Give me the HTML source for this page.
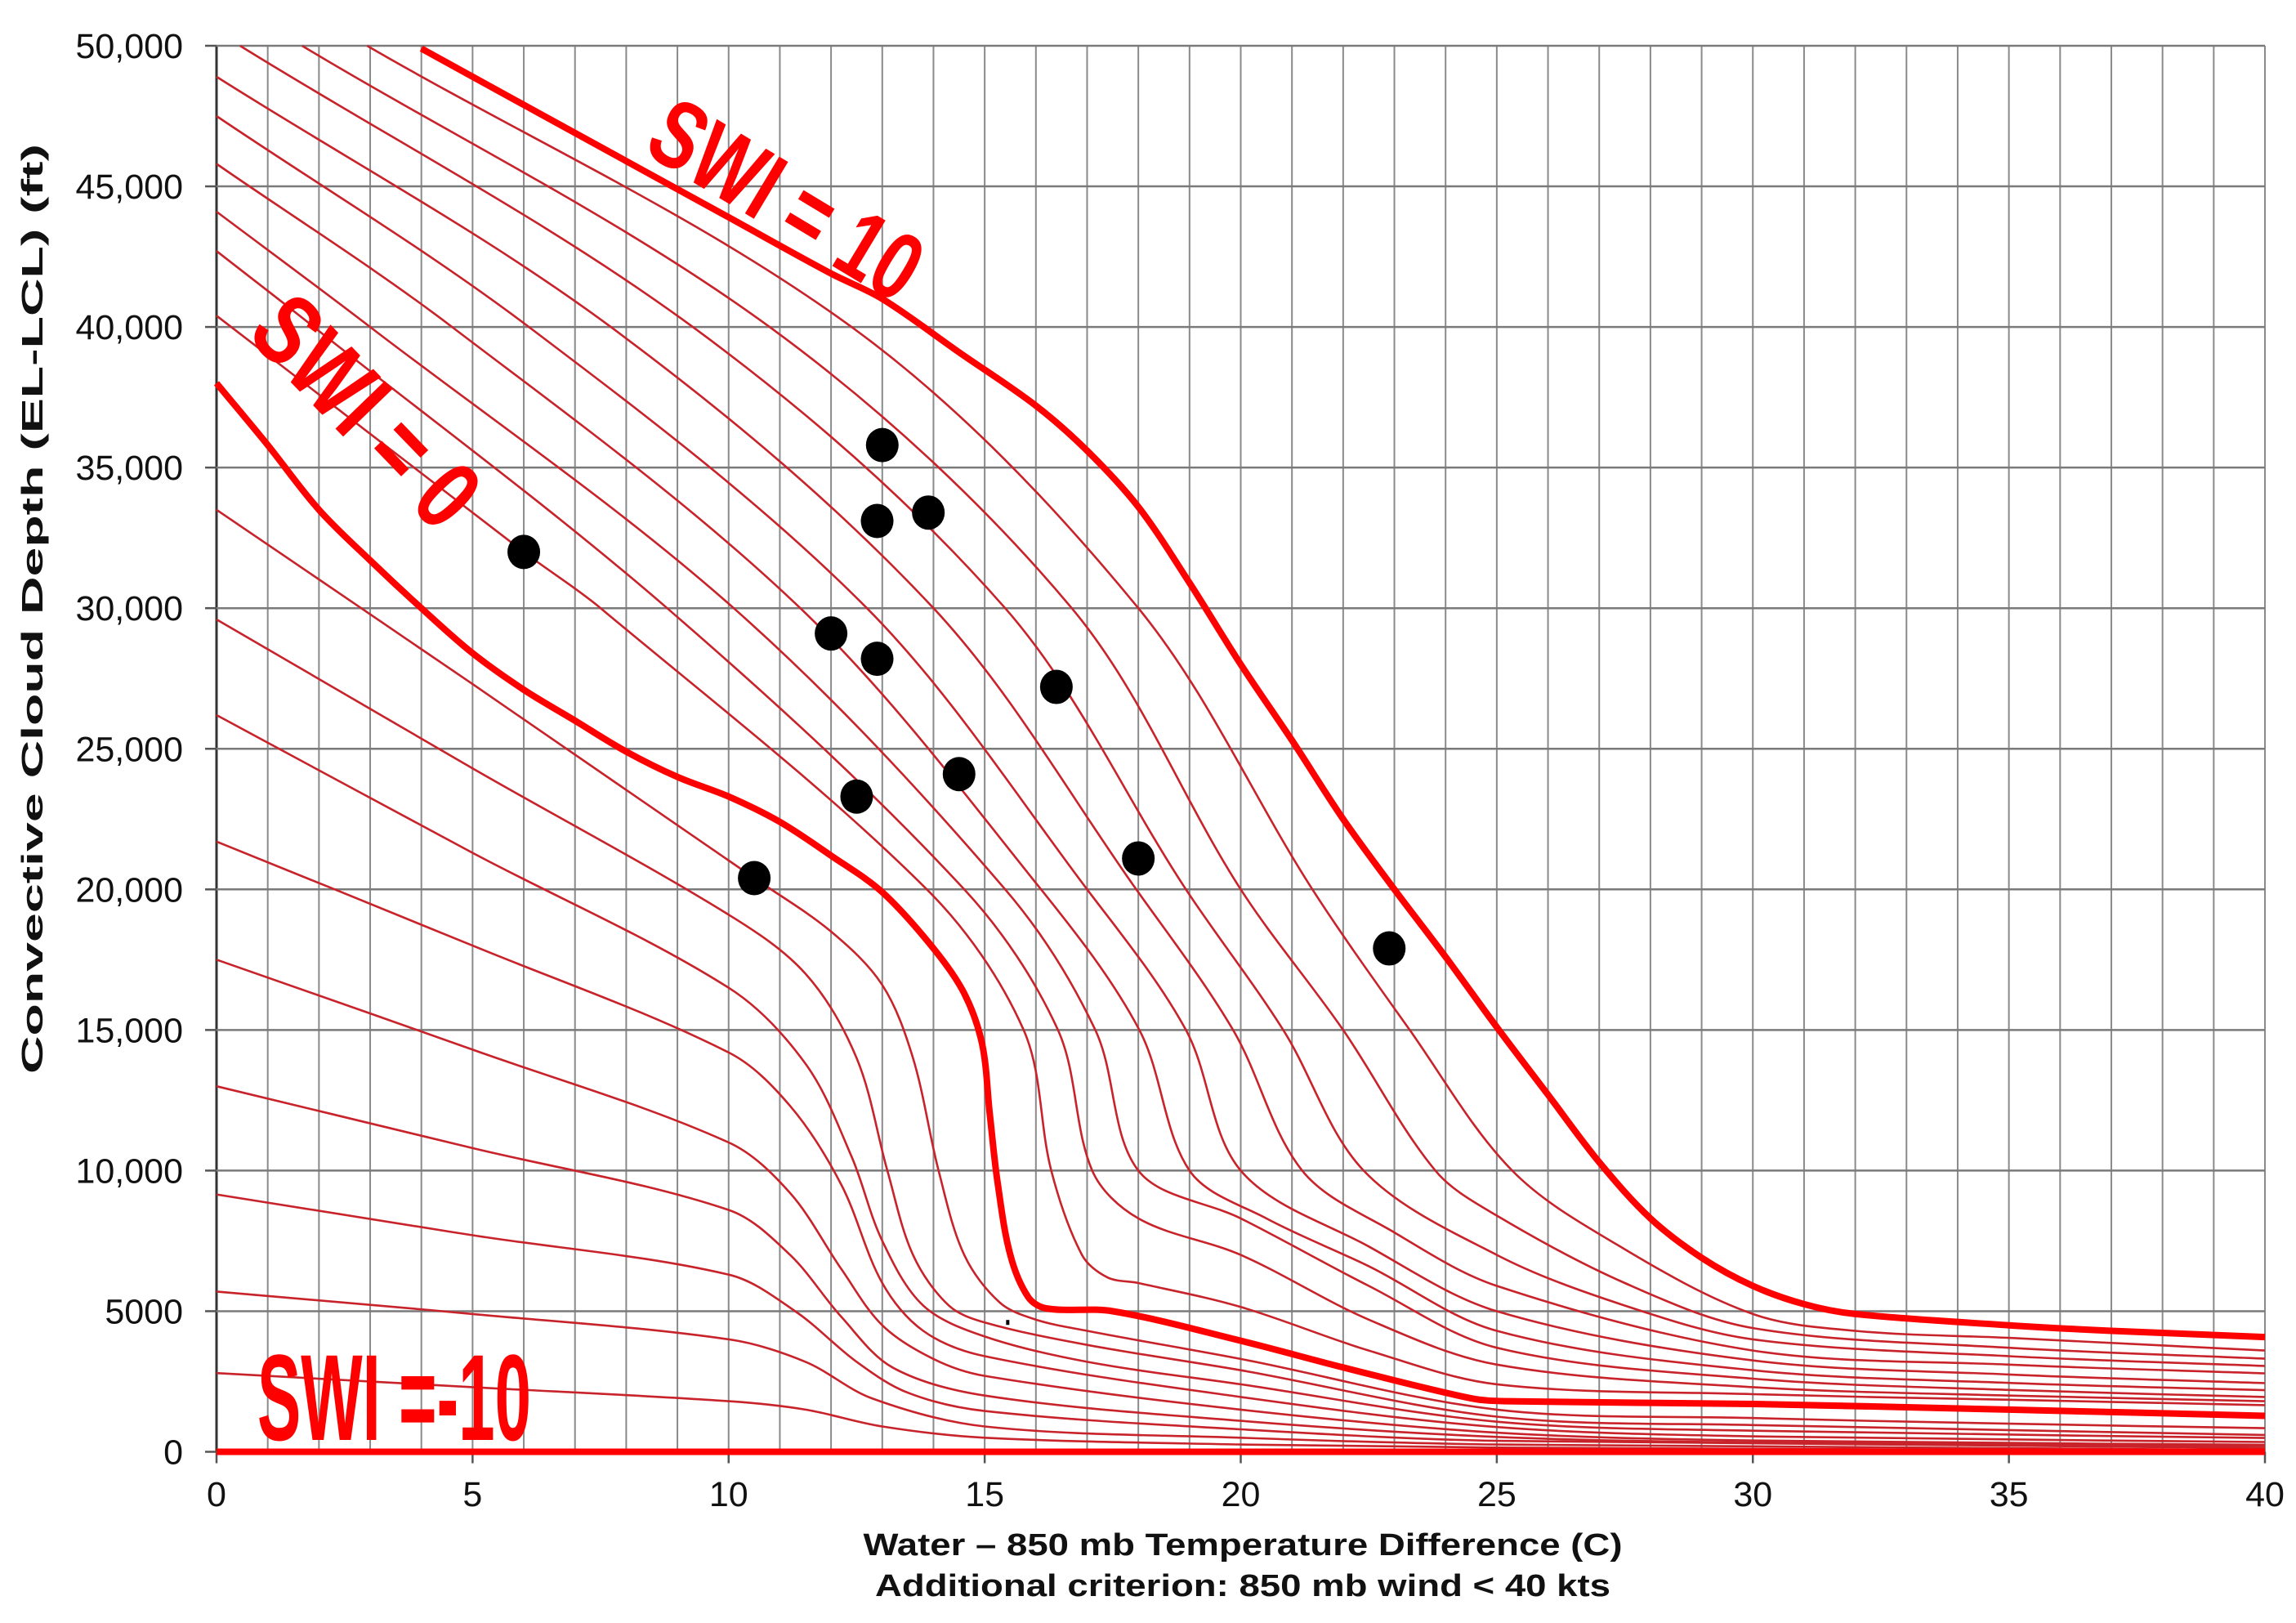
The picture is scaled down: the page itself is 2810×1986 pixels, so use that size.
<!DOCTYPE html>
<html><head><meta charset="utf-8"><style>
html,body{margin:0;padding:0;background:#fff;}
svg{display:block;}
text{font-family:"Liberation Sans",Arial,sans-serif;}
</style></head>
<body>
<svg id="chart" width="2810" height="1986" viewBox="0 0 2810 1986" xmlns="http://www.w3.org/2000/svg">
<rect x="0" y="0" width="2810" height="1986" fill="#fff"/>
<g id="grid"></g>
<g id="ticks"></g>
<defs><clipPath id="plotclip"><rect x="260" y="50" width="2518" height="1735"/></clipPath></defs>
<g id="curves" clip-path="url(#plotclip)"></g>
<g id="dots"></g>
<g>
<text x="0" y="0" transform="translate(785,185) rotate(31)" font-size="118" font-weight="bold" fill="#ff0000" textLength="365" lengthAdjust="spacingAndGlyphs">SWI = 10</text>
<text x="0" y="0" transform="translate(300,410) rotate(46)" font-size="122" font-weight="bold" fill="#ff0000" textLength="340" lengthAdjust="spacingAndGlyphs">SWI = 0</text>
<text x="315" y="1762" font-size="150" font-weight="bold" fill="#ff0000" textLength="335" lengthAdjust="spacingAndGlyphs">SWI =-10</text>
</g>
<g>
<text transform="translate(52,745) rotate(-90)" text-anchor="middle" font-size="36" font-weight="bold" fill="#111" textLength="1138" lengthAdjust="spacingAndGlyphs">Convective Cloud Depth (EL-LCL) (ft)</text>
<text x="1521" y="1903" text-anchor="middle" font-size="38" font-weight="bold" fill="#111" textLength="929" lengthAdjust="spacingAndGlyphs">Water – 850 mb Temperature Difference (C)</text>
<text x="1521" y="1953" text-anchor="middle" font-size="38" font-weight="bold" fill="#111" textLength="900" lengthAdjust="spacingAndGlyphs">Additional criterion: 850 mb wind &lt; 40 kts</text>
</g>
</svg>
<script>
// ---- data ----
const xTicks = [0,5,10,15,20,25,30,35,40];
const yTicks = [0,5000,10000,15000,20000,25000,30000,35000,40000,45000,50000];
const yTickLabels = ["0","5000","10,000","15,000","20,000","25,000","30,000","35,000","40,000","45,000","50,000"];
const swiThick10 = [[4,49900],[6,47900],[8,45900],[10,43900],[12,41900],[13,41000],[14.5,39100],[16,37200],[17,35600],[18,33600],[19,30900],[20,28000],[21,25300],[22,22500],[23,20000],[24,17600],[25,15100],[26,12700],[27,10300],[28,8300],[29,6900],[30,5900],[31,5250],[32,4900],[35,4500],[37,4300],[40,4080]];
const swiThick0 = [[0,38000],[1,35800],[2,33500],[3,31700],[4,30000],[5,28400],[6,27100],[7,26000],[8,24900],[9,24000],[10,23300],[11,22400],[12,21200],[13,19900],[14,17900],[14.6,16300],[14.95,14500],[15.1,12000],[15.25,9600],[15.5,7000],[15.85,5500],[16.2,5100],[17.5,5000],[20,3950],[22,3000],[24.5,1900],[25.2,1800],[30,1700],[35,1500],[40,1280]];
const swiThickMinus10 = [[0,0],[40,0]];
const swiPos1 = [[0,40400],[6,32000],[7.5,30000],[13.87,20000],[15.76,15000],[16.3,10000],[16.9,7000],[17.4,6200],[18,6000],[20,5150],[22.5,3600],[25,2400],[30,2050],[35,1850],[40,1660]];
const swiPos2 = [[0,42700],[1.9,40000],[8.8,30000],[14.6,20000],[16.43,15000],[17.1,10000],[18,8300],[20,7000],[22.5,4700],[25,3100],[30,2300],[35,2000],[40,1800]];
const swiPos3 = [[0,44100],[3.0,40000],[10.1,30000],[15.4,20000],[17.16,15000],[18.0,10000],[20,8300],[22.5,5900],[25,3700],[30,2600],[35,2200],[40,1950]];
const swiPos4 = [[0,45800],[4.6,40000],[11.4,30000],[16.1,20000],[18.02,15000],[19.0,10000],[20.5,8300],[22.5,6600],[25,4300],[30,2900],[35,2450],[40,2190]];
const swiPos5 = [[0,47500],[6.1,40000],[12.7,30000],[17.0,20000],[18.93,15000],[20.0,10000],[22.5,7300],[25,5000],[30,3250],[35,2750],[40,2440]];
const swiPos6 = [[0,48900],[7.7,40000],[14.0,30000],[17.96,20000],[19.85,15000],[21.2,10000],[23,7800],[25,5900],[30,3600],[35,3100],[40,2790]];
const swiPos7 = [[0.46,50000],[9.3,40000],[15.4,30000],[18.93,20000],[20.83,15000],[22.4,10000],[25,7000],[27.5,5200],[30,4000],[35,3400],[40,3050]];
const swiPos8 = [[1.67,50000],[10.8,40000],[16.7,30000],[20.0,20000],[22.0,15000],[23.8,10000],[25,8400],[27.5,6000],[30,4400],[35,3700],[40,3310]];
const swiPos9 = [[2.94,50000],[12.4,40000],[18.0,30000],[21.4,20000],[23.3,15000],[25.3,10000],[27.5,7200],[30,4900],[32,4300],[35,4050],[40,3600]];
const swiNeg1 = [[0,33500],[5,27300],[10.5,20400],[12,18500],[13,16600],[13.6,14000],[14.1,10000],[14.6,7000],[15.3,5300],[16,4700],[17,4300],[20,3300],[25,1500],[30,1200],[35,1000],[40,840]];
const swiNeg2 = [[0,29600],[5,24300],[10,19100],[11.5,17000],[12.5,14000],[13.1,10000],[13.6,7000],[14.3,5200],[15,4600],[17,3800],[20,2900],[25,1250],[30,950],[40,600]];
const swiNeg3 = [[0,26200],[5,21300],[10,16500],[11.5,13800],[12.4,10500],[13,7500],[13.8,5200],[15,4100],[17,3200],[20,2400],[25,1070],[30,750],[40,490]];
const swiNeg4 = [[0,21700],[5,18000],[10,14200],[11.2,12300],[12.2,9500],[13,6000],[13.8,4300],[15,3400],[20,1950],[25,880],[30,550],[40,350]];
const swiNeg5 = [[0,17500],[5,14300],[10,11000],[11.2,9200],[12.2,6500],[13,4500],[14,3300],[15,2700],[20,1500],[25,680],[30,400],[40,250]];
const swiNeg6 = [[0,13000],[5,10800],[10,8600],[11.2,7000],[12.2,4800],[13.2,3000],[15,2000],[20,1100],[25,530],[30,330],[40,200]];
const swiNeg7 = [[0,9150],[5,7700],[10,6300],[11.3,5000],[12.5,3200],[13.5,2100],[15,1450],[20,800],[25,390],[40,130]];
const swiNeg8 = [[0,5700],[5,4900],[10,4000],[11.5,3200],[12.8,1900],[15,900],[20,500],[25,260],[40,60]];
const swiNeg9 = [[0,2800],[5,2300],[10,1800],[11.5,1500],[13,900],[15,500],[20,260],[25,150],[40,20]];
const dotX = [6.0,13.0,12.9,13.9,12.0,12.9,16.4,14.5,12.5,10.5,18.0,22.9];
const dotY = [32000,35800,33100,33400,29100,28200,27200,24100,23300,20400,21100,17900];

// ---- axes ----
const X0 = 265, X1 = 2772, Y0 = 1776.5, Y1 = 56;
function sx(v){ return X0 + v * (X1 - X0) / 40; }
function sy(v){ return Y0 - v * (Y0 - Y1) / 50000; }
const NS = "http://www.w3.org/2000/svg";
function mk(tag, attrs, parent){
  const e = document.createElementNS(NS, tag);
  for (const k in attrs) e.setAttribute(k, attrs[k]);
  parent.appendChild(e);
  return e;
}
const grid = document.getElementById('grid');
for (let i = 0; i <= 40; i++) {
  const l = mk('line', {x1: sx(i), x2: sx(i), y1: sy(50000), y2: sy(0), stroke: i === 0 ? '#333' : '#8a8a8a', 'stroke-width': i === 0 ? 3 : 2}, grid);
  
  
}
for (let v = 0; v <= 50000; v += 5000) {
  const l = mk('line', {x1: sx(0), x2: sx(40), y1: sy(v), y2: sy(v), stroke: '#7a7a7a', 'stroke-width': 2.5}, grid);
  
  
}
const ticks = document.getElementById('ticks');
yTicks.forEach((v, i) => {
  const t = mk('line', {x1: sx(0) - 14, x2: sx(0), y1: sy(v), y2: sy(v), stroke: '#555', 'stroke-width': 2.5}, ticks);
  
  
  const lb = mk('text', {x: 224, y: sy(v) + 15, 'text-anchor': 'end', 'font-size': 43, fill: '#111'}, ticks);
  lb.textContent = yTickLabels[i];
  
  
});
xTicks.forEach(v => {
  const t = mk('line', {x1: sx(v), x2: sx(v), y1: sy(0), y2: sy(0) + 14, stroke: '#555', 'stroke-width': 2.5}, ticks);
  
  
  const lb = mk('text', {x: sx(v), y: 1843, 'text-anchor': 'middle', 'font-size': 43, fill: '#111'}, ticks);
  lb.textContent = String(v);
  
  
});

// ---- curves (chord-length Catmull-Rom) ----
function pathFor(data){
  const p = data.map(d => [sx(d[0]), sy(d[1])]);
  const n = p.length;
  const dist = (u, v) => Math.hypot(v[0] - u[0], v[1] - u[1]) || 1e-6;
  const tan = [];
  for (let i = 0; i < n; i++) {
    if (i === 0) { const L = dist(p[0], p[1]); tan.push([(p[1][0]-p[0][0])/L, (p[1][1]-p[0][1])/L]); }
    else if (i === n - 1) { const L = dist(p[n-2], p[n-1]); tan.push([(p[n-1][0]-p[n-2][0])/L, (p[n-1][1]-p[n-2][1])/L]); }
    else {
      const L = dist(p[i-1], p[i]) + dist(p[i], p[i+1]);
      tan.push([(p[i+1][0]-p[i-1][0])/L, (p[i+1][1]-p[i-1][1])/L]);
    }
  }
  let s = 'M' + p[0][0].toFixed(1) + ',' + p[0][1].toFixed(1);
  for (let i = 0; i < n - 1; i++) {
    const L = dist(p[i], p[i+1]) / 3;
    const c1 = [p[i][0] + tan[i][0]*L, p[i][1] + tan[i][1]*L];
    const c2 = [p[i+1][0] - tan[i+1][0]*L, p[i+1][1] - tan[i+1][1]*L];
    s += 'C' + c1[0].toFixed(1) + ',' + c1[1].toFixed(1) + ' ' + c2[0].toFixed(1) + ',' + c2[1].toFixed(1) + ' ' + p[i+1][0].toFixed(1) + ',' + p[i+1][1].toFixed(1);
  }
  return s;
}
const curvesG = document.getElementById('curves');
const thinSeries = [swiNeg9, swiNeg8, swiNeg7, swiNeg6, swiNeg5, swiNeg4, swiNeg3, swiNeg2, swiNeg1, swiPos1, swiPos2, swiPos3, swiPos4, swiPos5, swiPos6, swiPos7, swiPos8, swiPos9];
const thinNames = ['swi-minus-9','swi-minus-8','swi-minus-7','swi-minus-6','swi-minus-5','swi-minus-4','swi-minus-3','swi-minus-2','swi-minus-1','swi-1','swi-2','swi-3','swi-4','swi-5','swi-6','swi-7','swi-8','swi-9'];
thinSeries.forEach((s, i) => {
  const pth = mk('path', {d: pathFor(s), fill: 'none', stroke: '#c8232a', 'stroke-width': 2.6}, curvesG);
  
  
});
[[swiThickMinus10, 'curve-swi-minus-10'], [swiThick0, 'curve-swi-0'], [swiThick10, 'curve-swi-10']].forEach(pair => {
  const pth = mk('path', {d: pathFor(pair[0]), fill: 'none', stroke: '#ff0000', 'stroke-width': 8, 'stroke-linejoin': 'round'}, curvesG);
  
  
});

// ---- dots ----
const dotsG = document.getElementById('dots');
dotX.forEach((x, i) => {
  const c = mk('ellipse', {cx: sx(x), cy: sy(dotY[i]), rx: 20, ry: 21, fill: '#000'}, dotsG);
  
  
});
const speck = mk('rect', {x: sx(15.45) - 2, y: sy(4600) - 3, width: 4, height: 6, fill: '#000'}, dotsG);


</script>
</body></html>
